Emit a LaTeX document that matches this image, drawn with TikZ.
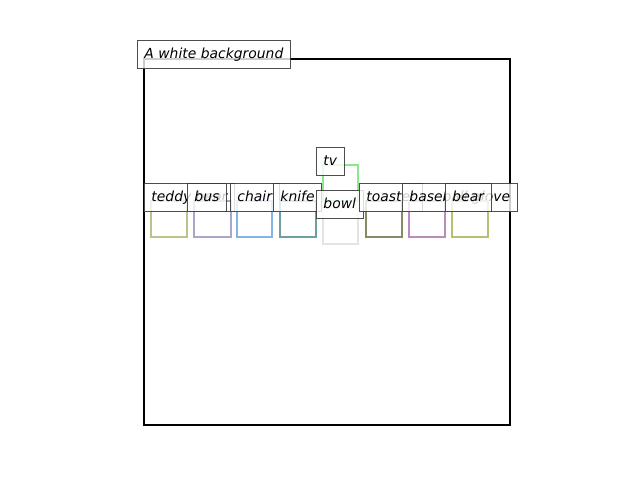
\documentclass[tikz,border=0pt]{standalone}
\usepackage{fontspec}
\setmainfont{DejaVu Sans}
\definecolor{cteddy}{HTML}{BCC28A}
\definecolor{cbus}{HTML}{ABA4CC}
\definecolor{cchair}{HTML}{82B4E6}
\definecolor{cknife}{HTML}{6E9F9F}
\definecolor{ctv}{HTML}{8EE68E}
\definecolor{cbowl}{HTML}{E2E6E2}
\definecolor{ctoaster}{HTML}{838C62}
\definecolor{cglove}{HTML}{B98CBA}
\definecolor{cbear}{HTML}{B7BF74}
\definecolor{edgegray}{HTML}{3A3A3A}
\tikzset{
  objbox/.style={line width=2.5pt},
  lbl/.style={anchor=base west, fill=white, fill opacity=0.8, text opacity=1,
    draw=edgegray, draw opacity=0.9, line width=0.9pt,
    inner xsep=7pt, inner ysep=0pt, text height=17.5pt, text depth=10.5pt,
    font=\fontsize{13.9}{16}\selectfont\itshape},
}
\begin{document}
\begin{tikzpicture}[x=1pt,y=-1pt]
\useasboundingbox (0,0) rectangle (640,480);
\fill[white] (0,0) rectangle (640,480);
\draw[line width=2pt] (144,59) rectangle (510,425);
% teddy bear
\draw[objbox, cteddy] (151,201) rectangle (187,237);
\node[lbl] (lteddy) at (144,201) {teddy bear};
% bus
\draw[objbox, cbus] (194,201) rectangle (231,237);
\node[lbl] (lbus) at (187,201) {bus};
% chair
\draw[objbox, cchair] (237,201) rectangle (272,237);
\node[lbl] (lchair) at (230,201) {chair};
% knife
\draw[objbox, cknife] (280,201) rectangle (316,237);
\node[lbl] (lknife) at (273,201) {knife};
% tv
\draw[objbox, ctv] (323,165) rectangle (358,201);
\node[lbl] (ltv) at (316,165) {tv};
% bowl
\draw[objbox, cbowl] (323,208) rectangle (358,244);
\node[lbl] (lbowl) at (316,208) {bowl};
% toaster
\draw[objbox, ctoaster] (366,201) rectangle (402,237);
\node[lbl] (ltoaster) at (359,201) {toaster};
% baseball glove
\draw[objbox, cglove] (409,201) rectangle (445,237);
\node[lbl] (lglove) at (402,201) {baseball glove};
% bear
\draw[objbox, cbear] (452,201) rectangle (488,237);
\node[lbl] (lbear) at (445,201) {bear};
% title
\node[lbl] (ltitle) at (137,58) {A white background};
\end{tikzpicture}
\end{document}
